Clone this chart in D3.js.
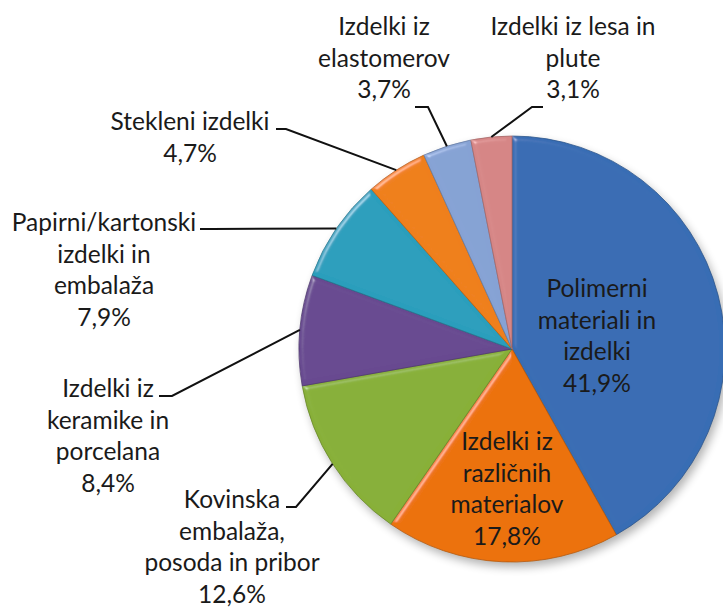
<!DOCTYPE html>
<html>
<head>
<meta charset="utf-8">
<script src="https://cdn.jsdelivr.net/npm/d3@7"></script>
<style>
  body { margin: 0; background: #fff; }
  svg { display: block; }
  text { font-family: Lato, "Open Sans", sans-serif; font-size: 24.5px; fill: #1a1a1a; }
</style>
</head>
<body>
<svg id="chart" width="723" height="607"></svg>
<script>
// slice data, clockwise from 12 o'clock
const categories = [
  "Polimerni materiali in izdelki",
  "Izdelki iz različnih materialov",
  "Kovinska embalaža, posoda in pribor",
  "Izdelki iz keramike in porcelana",
  "Papirni/kartonski izdelki in embalaža",
  "Stekleni izdelki",
  "Izdelki iz elastomerov",
  "Izdelki iz lesa in plute"
];
const values = [41.9, 17.8, 12.6, 8.4, 7.9, 4.7, 3.7, 3.1];
const labelLines = [
  ["Polimerni", "materiali in", "izdelki"],
  ["Izdelki iz", "različnih", "materialov"],
  ["Kovinska", "embalaža,", "posoda in pribor"],
  ["Izdelki iz", "keramike in", "porcelana"],
  ["Papirni/kartonski", "izdelki in", "embalaža"],
  ["Stekleni izdelki"],
  ["Izdelki iz", "elastomerov"],
  ["Izdelki iz lesa in", "plute"]
];
const colors = ["#386db4", "#ec720c", "#88b038", "#684a90", "#2b9ebc", "#ef7f1a", "#86a2d4", "#d68686"];

// label placement: x/y = centre of first line, leader = [text end, elbow]
const labelLayout = [
  { x: 597, y: 297, inside: true },
  { x: 507, y: 450, inside: true },
  { x: 232, y: 508, leader: [[286, 507], [296, 507]] },
  { x: 108, y: 397, leader: [[159, 396], [172, 396]] },
  { x: 104, y: 231, leader: [[200, 229], [212, 229]] },
  { x: 190, y: 130, leader: [[276, 129], [286, 129]] },
  { x: 384, y: 35, leader: [[415, 107], [428, 107]] },
  { x: 573, y: 35, leader: [[543, 107], [532, 107]] }
];

const fmt = v => d3.format(".1f")(v).replace(".", ",") + "%";

const svg = d3.select("#chart");
const cx = 512, cy = 349, r = 213, lineH = 31.5;

const defs = svg.append("defs");
const bevel = defs.append("filter").attr("id", "bevel")
  .attr("x", "-10%").attr("y", "-10%").attr("width", "120%").attr("height", "120%");
bevel.append("feGaussianBlur").attr("in", "SourceAlpha").attr("stdDeviation", 2.5).attr("result", "blur");
bevel.append("feSpecularLighting").attr("in", "blur").attr("surfaceScale", 4)
  .attr("specularConstant", 0.6).attr("specularExponent", 30)
  .attr("lighting-color", "#ffffff").attr("result", "spec")
  .append("feDistantLight").attr("azimuth", 225).attr("elevation", 28);
bevel.append("feComposite").attr("in", "spec").attr("in2", "SourceAlpha")
  .attr("operator", "in").attr("result", "specOut");
bevel.append("feComposite").attr("in", "SourceGraphic").attr("in2", "specOut")
  .attr("operator", "arithmetic").attr("k1", 0).attr("k2", 1).attr("k3", 0.5).attr("k4", 0);

const shadow = defs.append("filter").attr("id", "shadow")
  .attr("x", "-20%").attr("y", "-20%").attr("width", "140%").attr("height", "140%");
shadow.append("feGaussianBlur").attr("stdDeviation", 5);

const pie = d3.pie().sort(null).value(d => d)(values);
const arc = d3.arc().innerRadius(0).outerRadius(r);
const rim = d3.arc().innerRadius(r).outerRadius(r);

const g = svg.append("g").attr("transform", `translate(${cx},${cy})`);

g.append("circle")
  .attr("cx", 3).attr("cy", 5).attr("r", r)
  .attr("fill", "#000").attr("opacity", 0.3)
  .attr("filter", "url(#shadow)");

g.selectAll("path.slice")
  .data(pie)
  .join("path")
  .attr("class", "slice")
  .attr("d", arc)
  .attr("fill", (d, i) => colors[i])
  .attr("stroke", (d, i) => d3.color(colors[i]).darker(0.7))
  .attr("stroke-width", 0.8)
  .attr("filter", "url(#bevel)");

// leader lines
const lines = svg.append("g");
pie.forEach((d, i) => {
  const L = labelLayout[i];
  if (!L.leader) return;
  const p = rim.centroid(d);
  const pts = [...L.leader, [cx + p[0], cy + p[1]]];
  lines.append("path")
    .attr("d", d3.line()(pts))
    .attr("fill", "none")
    .attr("stroke", "#111")
    .attr("stroke-width", 2);
});

// labels
const labels = svg.append("g");
pie.forEach((d, i) => {
  const L = labelLayout[i];
  const t = labels.append("text")
    .attr("text-anchor", "middle")
    .attr("fill", L.inside ? "#111" : "#1a1a1a");
  const rows = [...labelLines[i], fmt(values[i])];
  rows.forEach((s, k) => {
    t.append("tspan").attr("x", L.x).attr("y", L.y + k * lineH).text(s);
  });
});
</script>
</body>
</html>
